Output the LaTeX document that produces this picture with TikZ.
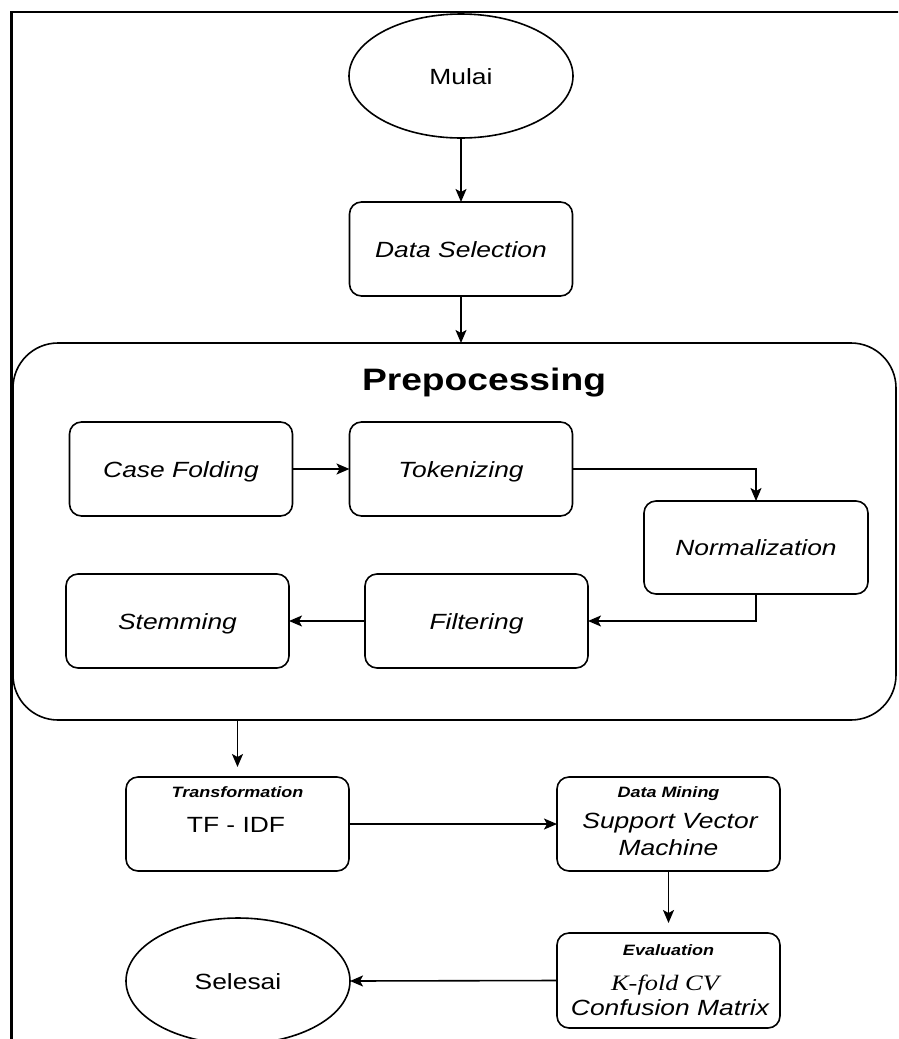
\documentclass[tikz,border=0pt]{standalone}
\usepackage{fontspec}
\setmainfont{Liberation Sans}[FakeStretch=1.2]
\newfontfamily\serifit{Liberation Serif}[FakeStretch=1.2]
\usetikzlibrary{shapes.geometric,arrows.meta}
\begin{document}
\begin{tikzpicture}[x=1pt,y=-1pt,
 box/.style={draw, rounded corners=12pt, line width=1.6pt, minimum width=223pt, minimum height=94pt, inner sep=0pt, outer sep=0pt, font=\fontsize{22}{26}\selectfont\itshape, text height=16pt, text depth=0pt},
 oval/.style={draw, ellipse, line width=1.6pt, minimum width=224pt, minimum height=124pt, inner sep=0pt, outer sep=0pt, font=\fontsize{22}{26}\selectfont, text height=16pt, text depth=0pt},
 arr/.style={-{Stealth[length=13pt,width=11pt,inset=3pt]}, line width=1.6pt},
 ttl/.style={anchor=base, inner sep=0pt, font=\fontsize{15}{18}\selectfont\bfseries\itshape},
 txt/.style={anchor=base, inner sep=0pt, font=\fontsize{22}{26}\selectfont\itshape}]
\path[use as bounding box, fill=white] (0,0) rectangle (898,1039);
\clip (0,0) rectangle (898,1039);
% outer frame
\draw[line width=2.5pt] (11.5,1045) -- (11.5,12) -- (900,12);
% preprocessing container
\node[draw, rounded corners=45pt, line width=1.6pt, minimum width=883pt, minimum height=377pt, inner sep=0pt, outer sep=0pt] (pre) at (454.5,531.5) {};
\node[anchor=base, inner sep=0pt, font=\fontsize{31}{36}\selectfont\bfseries] (ptitle) at (484,390) {Prepocessing};
% nodes
\node[oval] (mulai) at (461,76) {Mulai};
\node[box] (ds) at (461,249) {Data Selection};
\node[box] (case) at (181,469) {Case Folding};
\node[box] (tok) at (461,469) {Tokenizing};
\node[box, minimum width=224pt, minimum height=93pt] (norm) at (756,547.5) {Normalization};
\node[box] (stem) at (177.5,621) {Stemming};
\node[box] (filt) at (476.5,621) {Filtering};
\node[box] (trans) at (237.5,824) {};
\node[box] (svm) at (668.5,824) {};
\node[box, minimum height=95pt] (eval) at (668.5,980.5) {};
\node[oval, minimum height=126pt] (selesai) at (238,981) {Selesai};
% texts inside multi-line boxes
\node[ttl] (transT) at (237.5,797) {Transformation};
\node[txt, font=\fontsize{22}{26}\selectfont\upshape] (tfidf) at (236,832) {TF - IDF};
\node[ttl] (svmT) at (668.5,797) {Data Mining};
\node[txt] (svm1) at (670,828) {Support Vector};
\node[txt] (svm2) at (668.5,855) {Machine};
\node[ttl] (evalT) at (668.5,955) {Evaluation};
\node[txt, font=\fontsize{22}{26}\selectfont\serifit\itshape] (kfold) at (665,990) {K-fold CV};
\node[txt] (conf) at (670,1015) {Confusion Matrix};
% connectors
\draw[arr] (mulai) -- (ds);
\draw[arr] (ds.south) -- (ds.south |- pre.north);
\draw[arr] (case) -- (tok);
\draw[arr] (tok.east) -| (norm.north);
\draw[arr] (norm.south) |- (filt.east);
\draw[arr] (filt) -- (stem);
\draw[arr, shorten >=10pt] (trans.north |- pre.south) -- (trans.north);
\draw[arr] (trans) -- (svm);
\draw[arr, shorten >=10pt] (svm) -- (eval);
\draw[arr] (eval.west) -- (selesai.east);
\end{tikzpicture}
\end{document}
